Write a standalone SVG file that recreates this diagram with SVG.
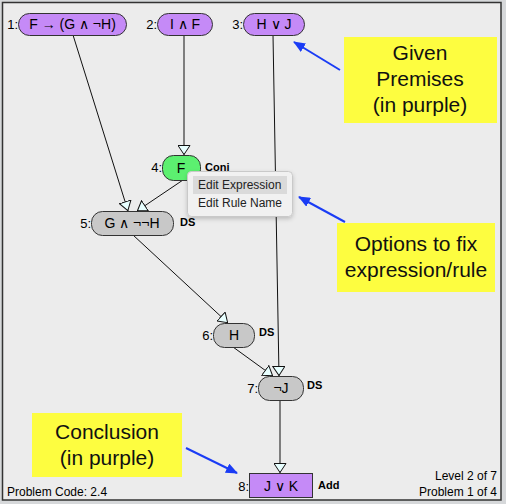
<svg xmlns="http://www.w3.org/2000/svg" width="506" height="504" viewBox="0 0 506 504">
<defs>
<style>
text{font-family:"Liberation Sans",Arial,sans-serif;fill:#000}
.pill{stroke:#333;stroke-width:1}
.prem{fill:#c58af7}
.der{fill:#c8c8c8}
.conj{fill:#5cf070}
.nt{font-size:14px;text-anchor:middle}
.lb{font-size:13px;text-anchor:end}
.rl{font-size:11px;font-weight:bold}
.edge{stroke:#111;stroke-width:1;fill:none;marker-end:url(#tri)}
.blue{stroke:#1a3cf5;stroke-width:2;fill:none;marker-end:url(#barr)}
.note{fill:#fdfd40}
.nx{font-size:21px;text-anchor:middle;fill:#111}
.mt{font-size:12px;fill:#222}
</style>
<marker id="tri" viewBox="0 0 10 13" refX="10" refY="6.5" markerWidth="10" markerHeight="13" markerUnits="userSpaceOnUse" orient="auto">
<path d="M0.5,0.5 L9.5,6.5 L0.5,12.5 Z" fill="#e8ffff" stroke="#111" stroke-width="1"/>
</marker>
<marker id="barr" viewBox="0 0 12 10" refX="11" refY="5" markerWidth="12" markerHeight="10" markerUnits="userSpaceOnUse" orient="auto">
<path d="M0,0 L12,5 L0,10 Z" fill="#1a3cf5"/>
</marker>
<filter id="sh" x="-10%" y="-10%" width="130%" height="140%">
<feDropShadow dx="0" dy="2" stdDeviation="2" flood-color="#000" flood-opacity="0.2"/>
</filter>
</defs>
<rect x="0" y="0" width="506" height="504" fill="#d6d8da"/>
<rect x="2.5" y="2.5" width="498.5" height="497.5" fill="#ececec" stroke="#333" stroke-width="1.5"/>

<g id="connectors">
<line class="edge" x1="73" y1="35" x2="128" y2="211"/>
<line class="edge" x1="184" y1="35" x2="184" y2="155"/>
<line class="edge" x1="273" y1="35" x2="279" y2="376"/>
<line class="edge" x1="183" y1="180" x2="137" y2="211"/>
<line class="edge" x1="133" y1="235" x2="228" y2="323"/>
<line class="edge" x1="233" y1="347" x2="273" y2="376"/>
<line class="edge" x1="280" y1="400" x2="280" y2="473"/>
</g>

<g id="n1">
<text class="lb" x="18" y="29">1:</text>
<rect class="pill prem" x="18.5" y="13.5" width="108" height="22" rx="11"/>
<text class="nt" x="72.5" y="29">F → (G ∧ ¬H)</text>
</g>
<g id="n2">
<text class="lb" x="157" y="29">2:</text>
<rect class="pill prem" x="157.5" y="13.5" width="55" height="22" rx="11"/>
<text class="nt" x="185" y="29">I ∧ F</text>
</g>
<g id="n3">
<text class="lb" x="243" y="29">3:</text>
<rect class="pill prem" x="243.5" y="13.5" width="61" height="22" rx="11"/>
<text class="nt" x="274" y="29">H ∨ J</text>
</g>
<g id="n4">
<text class="lb" x="162" y="172">4:</text>
<rect class="pill conj" x="162.5" y="155.5" width="38" height="25" rx="11"/>
<text class="nt" x="181" y="173">F</text>
<text class="rl" x="205" y="171">Conj</text>
</g>
<g id="n5">
<text class="lb" x="91" y="228">5:</text>
<rect class="pill der" x="91.5" y="211.5" width="82" height="24" rx="11"/>
<text class="nt" x="132" y="228">G ∧ ¬¬H</text>
<text class="rl" x="180" y="226">DS</text>
</g>
<g id="n6">
<text class="lb" x="213" y="340">6:</text>
<rect class="pill der" x="213.5" y="323.5" width="41" height="24" rx="11"/>
<text class="nt" x="234" y="340">H</text>
<text class="rl" x="259" y="336">DS</text>
</g>
<g id="n7">
<text class="lb" x="258" y="393">7:</text>
<rect class="pill der" x="258.5" y="376.5" width="45" height="24" rx="11"/>
<text class="nt" x="281" y="393">¬J</text>
<text class="rl" x="307" y="389">DS</text>
</g>
<g id="n8">
<text class="lb" x="249" y="491">8:</text>
<rect class="pill prem" x="249.5" y="473.5" width="63" height="24"/>
<text class="nt" x="281" y="491">J ∨ K</text>
<text class="rl" x="318" y="489">Add</text>
</g>

<g id="menu">
<rect x="187.5" y="171.5" width="105" height="45" rx="4" fill="#f1f1f1" stroke="#c9c9c9" filter="url(#sh)"/>
<rect x="193" y="176" width="94" height="18" fill="#dadada"/>
<text class="mt" x="198" y="189">Edit Expression</text>
<text class="mt" x="198" y="207">Edit Rule Name</text>
</g>

<g id="note-premises">
<rect class="note" x="344" y="37" width="153" height="86"/>
<text class="nx" x="420" y="60">Given</text>
<text class="nx" x="420" y="86">Premises</text>
<text class="nx" x="420" y="112">(in purple)</text>
<line class="blue" x1="340" y1="70" x2="294" y2="42"/>
</g>
<g id="note-options">
<rect class="note" x="337" y="223" width="158" height="69"/>
<text class="nx" x="416" y="251">Options to fix</text>
<text class="nx" x="416" y="277">expression/rule</text>
<line class="blue" x1="345" y1="222" x2="299" y2="197"/>
</g>
<g id="note-conclusion">
<rect class="note" x="32" y="413" width="150" height="64"/>
<text class="nx" x="107" y="439">Conclusion</text>
<text class="nx" x="107" y="465">(in purple)</text>
<line class="blue" x1="186" y1="448" x2="237" y2="473"/>
</g>

<g id="status">
<text style="font-size:12px" x="7" y="496">Problem Code: 2.4</text>
<text style="font-size:12px;text-anchor:end" x="497" y="480">Level 2 of 7</text>
<text style="font-size:12px;text-anchor:end" x="497" y="496">Problem 1 of 4</text>
</g>
</svg>
